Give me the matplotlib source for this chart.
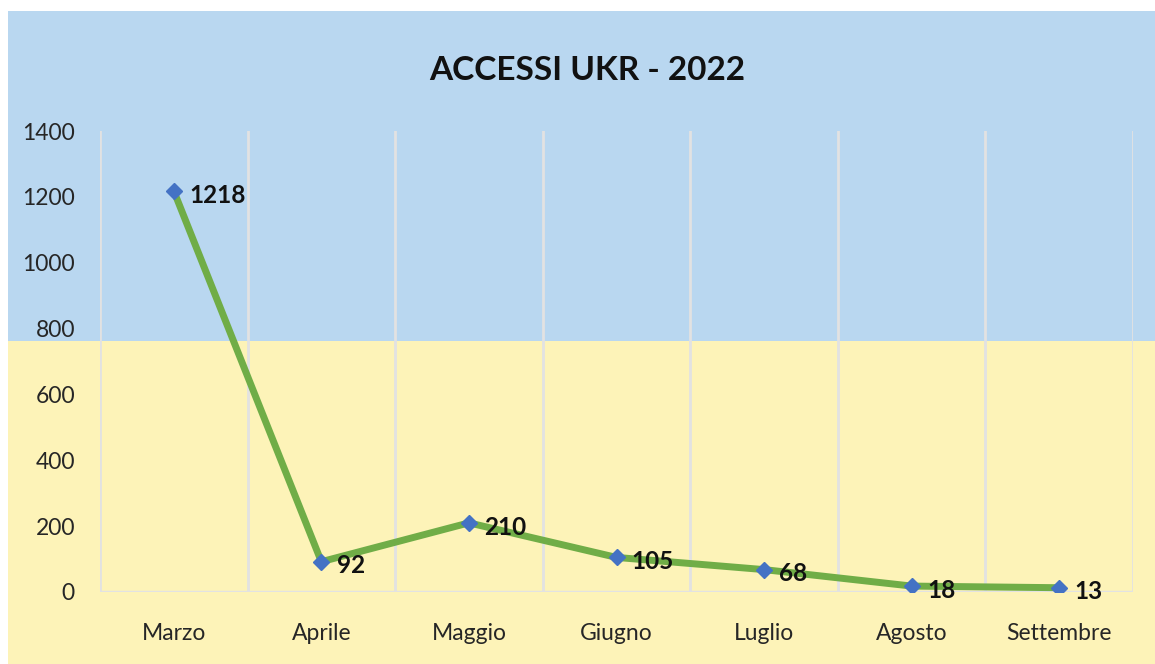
import matplotlib.pyplot as plt
from matplotlib.patches import Rectangle

months = ["Marzo", "Aprile", "Maggio", "Giugno", "Luglio", "Agosto", "Settembre"]
accessi = [1218, 92, 210, 105, 68, 18, 13]
y_ticks = [0, 200, 400, 600, 800, 1000, 1200, 1400]
title = "ACCESSI UKR - 2022"

plt.rcParams['font.family'] = ['Lato', 'DejaVu Sans']

W, H = 1155, 664
fig = plt.figure(figsize=(W / 100, H / 100), dpi=100)
fig.patch.set_facecolor("white")

# two-colour backdrop: blue above, yellow below
split = (H - 341) / H
top = (H - 11) / H
left = 8 / W
fig.patches.append(Rectangle((left, 0), 1 - left, split, transform=fig.transFigure,
                             facecolor="#FDF3B8", edgecolor="none", zorder=-5))
fig.patches.append(Rectangle((left, split), 1 - left, top - split, transform=fig.transFigure,
                             facecolor="#B9D7F0", edgecolor="none", zorder=-5))

ax = fig.add_axes([100 / W, (H - 592) / H, (1133 - 100) / W, (592 - 131) / H])
ax.set_facecolor("none")
ax.set_zorder(1)
x = list(range(len(months)))

ax.set_xlim(-0.5, len(months) - 0.5)
ax.set_ylim(0, 1400)
for b in range(len(months) + 1):
    ax.axvline(b - 0.5, color="#E2E2E2", lw=2, zorder=1)
ax.axhline(0, color="#E2E2E2", lw=2.5, zorder=1)

for s in ax.spines.values():
    s.set_visible(False)

ax.plot(x, accessi, color="#70AD47", lw=5, solid_capstyle="round", zorder=3)
ax.plot(x, accessi, linestyle="none", marker="D", markersize=8.5,
        color="#4472C4", zorder=4)

for xi, v in zip(x, accessi):
    ax.annotate(str(v), (xi, v), xytext=(11, -3), textcoords="offset points",
                ha="left", va="center", fontsize=17.5, fontweight="bold",
                color="#111111", zorder=5, annotation_clip=False)

ax.set_xticks(x)
ax.set_xticklabels(months, fontsize=16.5, color="#262626")
ax.set_yticks(y_ticks)
ax.set_yticklabels([str(t) for t in y_ticks], fontsize=16.5, color="#262626")
ax.tick_params(axis="both", length=0)
ax.tick_params(axis="x", pad=22)
ax.tick_params(axis="y", pad=18)

fig.text(587 / W, (H - 70) / H, title, ha="center", va="center",
         fontsize=24, fontweight="bold", color="#111111")

fig.savefig("out.png", dpi=100)
